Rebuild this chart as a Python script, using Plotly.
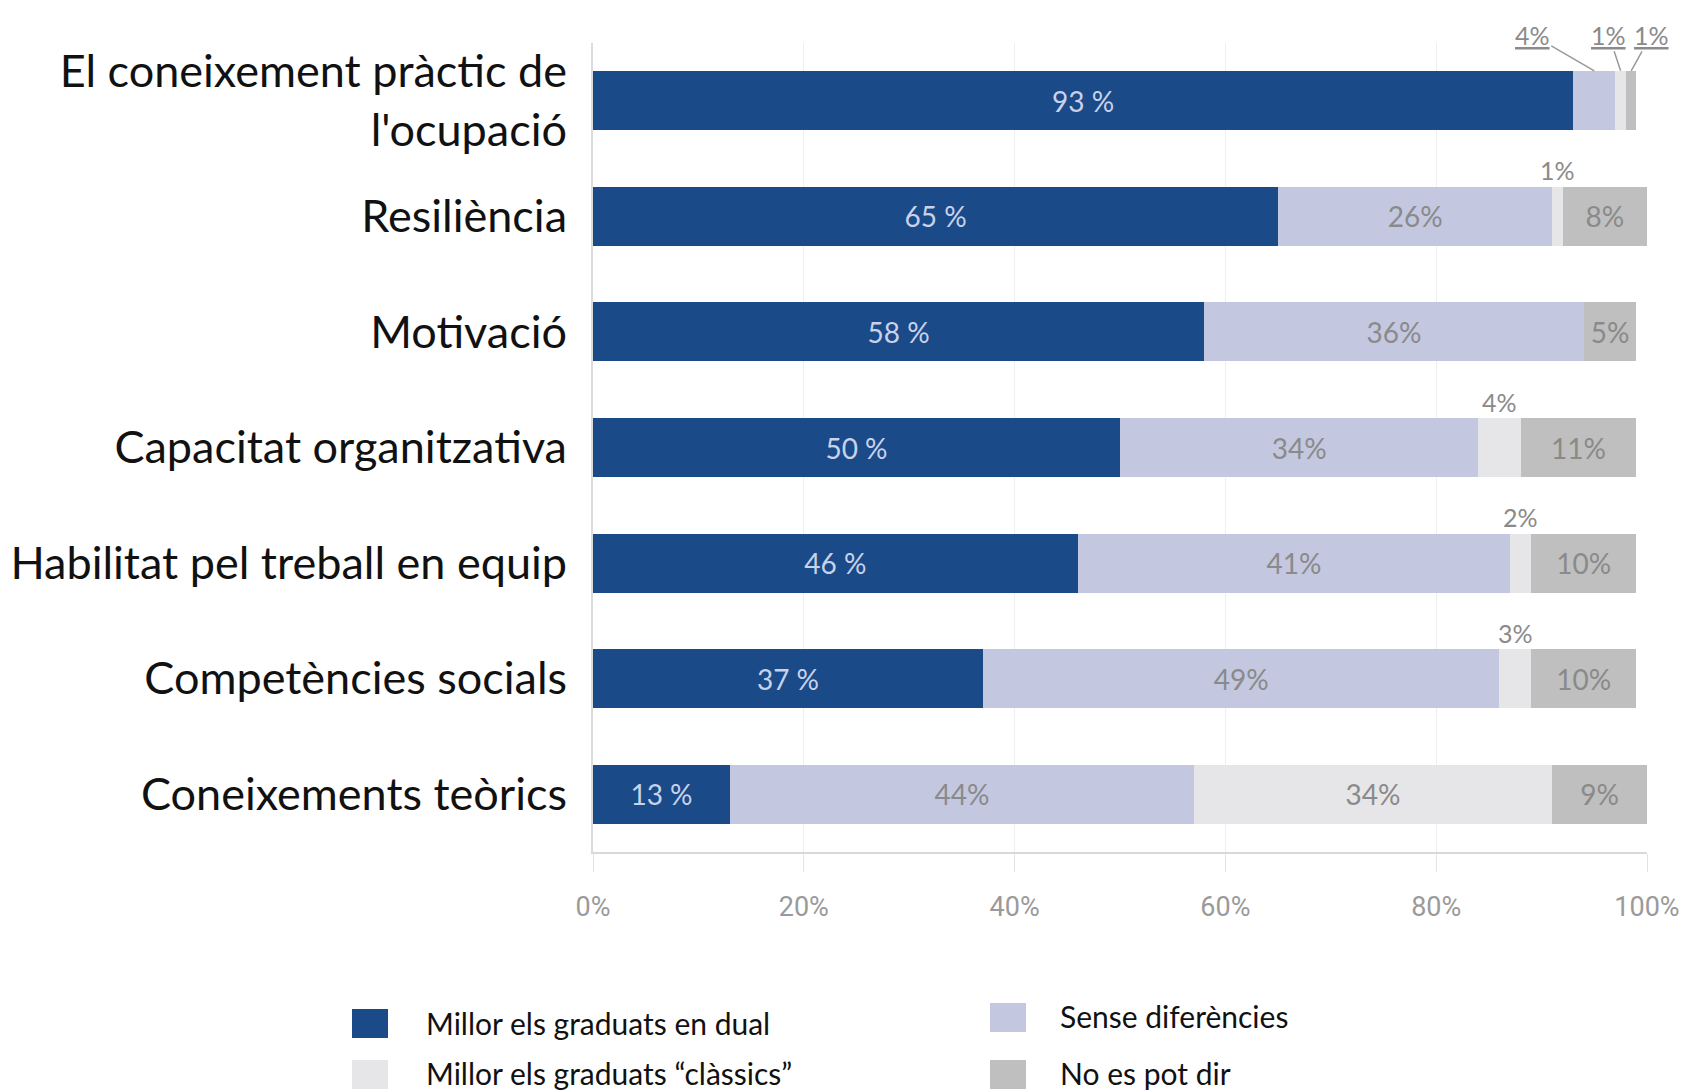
import plotly.graph_objects as go

W, H = 1683, 1092
LEFT, RIGHT, TOP, BOTTOM = 593, 36, 43, 240

categories = [
    "El coneixement pràctic de<br>l'ocupació",
    "Resiliència",
    "Motivació",
    "Capacitat organitzativa",
    "Habilitat pel treball en equip",
    "Competències socials",
    "Coneixements teòrics",
]
series_names = [
    "Millor els graduats en dual",
    "Sense diferències",
    "Millor els graduats “clàssics”",
    "No es pot dir",
]
dual = [93, 65, 58, 50, 46, 37, 13]
sense = [4, 26, 36, 34, 41, 49, 44]
classics = [1, 1, 0, 4, 2, 3, 34]
no_dir = [1, 8, 5, 11, 10, 10, 9]
x_ticks = [0, 20, 40, 60, 80, 100]

colors = ["#1b4a88", "#c3c8e0", "#e6e6e8", "#bfbfbf"]
text_colors = ["#c8d2ea", "#8a8a8a", "#8a8a8a", "#8a8a8a"]
label_fmt = ["{} %", "{}%", "{}%", "{}%"]
series = [dual, sense, classics, no_dir]

fig = go.Figure()
for name, vals, col, tcol, fmt in zip(series_names, series, colors, text_colors, label_fmt):
    fig.add_trace(go.Bar(
        y=categories, x=vals, name=name, orientation="h",
        marker=dict(color=col, line=dict(width=0)),
        text=[fmt.format(v) if v >= 5 else "" for v in vals],
        textposition="inside", insidetextanchor="middle", textangle=0,
        insidetextfont=dict(family="Lato", size=28, color=tcol),
        showlegend=False, hoverinfo="skip",
    ))

# small shares written above the bars
starts = [d + s for d, s in zip(dual, sense)]
for i, cat in enumerate(categories):
    if i == 0:
        continue
    v = classics[i]
    if 0 < v < 5:
        fig.add_annotation(x=starts[i] + v / 2, y=cat, yshift=46, text=f"{v}%",
                           showarrow=False, font=dict(family="Lato", size=25, color="#8a8a8a"))

# first bar: underlined labels with leader lines
first = categories[0]
small = [
    (dual[0] + sense[0] / 2, sense[0], -62),
    (dual[0] + sense[0] + classics[0] / 2, classics[0], -12),
    (dual[0] + sense[0] + classics[0] + no_dir[0] / 2, no_dir[0], 20),
]
for xpos, v, dx in small:
    fig.add_annotation(x=xpos, y=first, yshift=30, ax=dx, ay=-36, text=f"<u>{v}%</u>",
                       showarrow=True, arrowhead=0, arrowwidth=1.5, arrowcolor="#999999",
                       font=dict(family="Lato", size=25, color="#8a8a8a"))

# manual legend with large squares
pw = W - LEFT - RIGHT
ph = H - TOP - BOTTOM


def px(xp):
    return (xp - LEFT) / pw


def py(yp):
    return (H - BOTTOM - yp) / ph


legend_spots = [(352, 1009, 424, 1023), (990, 1003, 1058, 1016),
                (352, 1060, 424, 1073), (990, 1060, 1058, 1073)]
for k, (sx, sy, tx, ty) in enumerate(legend_spots):
    fig.add_shape(type="rect", xref="paper", yref="paper",
                  x0=px(sx), x1=px(sx + 36), y0=py(sy + 29), y1=py(sy),
                  fillcolor=colors[k], line=dict(width=0))
    fig.add_annotation(xref="paper", yref="paper", x=px(tx), y=py(ty), xanchor="left",
                       yanchor="middle", text=series_names[k], showarrow=False,
                       font=dict(family="Lato", size=30, color="#111111"))

fig.update_layout(
    width=W, height=H,
    margin=dict(l=LEFT, r=RIGHT, t=TOP, b=BOTTOM),
    barmode="stack", bargap=0.49,
    plot_bgcolor="white", paper_bgcolor="white",
    font=dict(family="Lato", color="#111111"),
)
fig.update_xaxes(
    range=[0, 100], tickvals=x_ticks, ticktext=[f"{t}%" for t in x_ticks],
    showgrid=True, gridcolor="#efefef", gridwidth=1,
    showline=True, linecolor="#d9d9d9", linewidth=2,
    ticks="outside", ticklen=18, tickcolor="#e3e3e3", ticklabelstandoff=12,
    tickfont=dict(family="Liberation Sans Narrow, Roboto", size=27, color="#9a9a9a"),
    zeroline=False, automargin=False,
)
fig.update_yaxes(
    autorange="reversed", showline=True, linecolor="#dcdcdc", linewidth=2,
    ticks="", ticklabelstandoff=15, showgrid=False, automargin=False,
    tickfont=dict(family="Lato", size=45, color="#111111"),
)

fig.write_html("out.html", config={"displayModeBar": False},
               post_script="document.body.style.margin='0';")
